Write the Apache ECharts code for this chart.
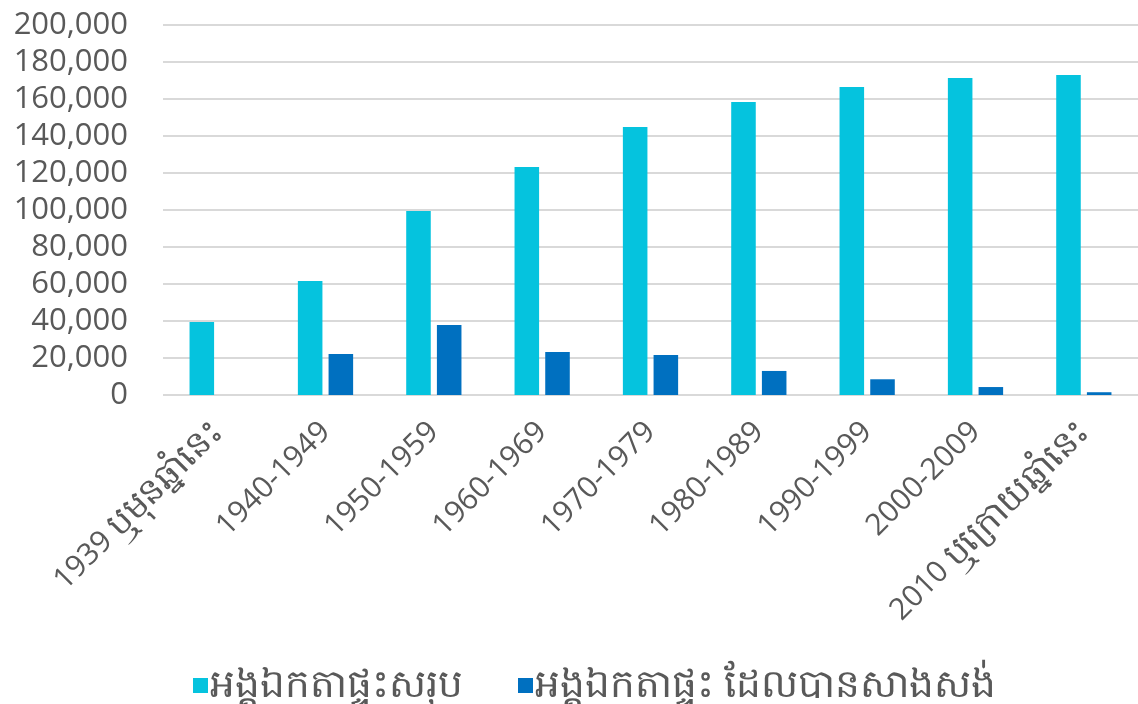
<!DOCTYPE html>
<html>
<head>
<meta charset="utf-8">
<script src="https://cdn.jsdelivr.net/npm/echarts@6/dist/echarts.min.js"></script>
<style>
  html, body { margin: 0; padding: 0; background: #fff; }
  #chart { width: 1138px; height: 704px; }
</style>
</head>
<body>
<div id="chart"></div>
<script>
const categories = [
  '1939 ឬមុនឆ្នាំនេះ', '1940-1949', '1950-1959', '1960-1969', '1970-1979',
  '1980-1989', '1990-1999', '2000-2009', '2010 ឬក្រោយឆ្នាំនេះ'
]
const seriesNames = ['អង្គឯកតាផ្ទះសរុប', 'អង្គឯកតាផ្ទះ ដែលបានសាងសង់']
const totalUnits = [39500, 61600, 99500, 123200, 144900, 158400, 166500, 171400, 173000]
const builtUnits = [0, 22200, 37800, 23200, 21600, 13000, 8500, 4300, 1500]

const fontFamily = '"Open Sans", "Noto Sans", "DejaVu Sans", sans-serif'
const textColor = '#595959'

const chart = echarts.init(document.getElementById('chart'))

// Khmer part of a label gets a bigger size (reference font is wider)
function labelFormatter(v) {
  const i = v.indexOf(' ')
  if (i < 0) return v
  return v.slice(0, i) + ' {k|' + v.slice(i + 1) + '}'
}

chart.setOption({
  animation: false,
  textStyle: { fontFamily: fontFamily },
  grid: {
    left: 163,
    right: 0,
    top: 25,
    bottom: 309,
    containLabel: false
  },
  legend: {
    top: 661,
    left: 188,
    itemWidth: 15,
    itemHeight: 15,
    itemGap: 55,
    icon: 'rect',
    textStyle: { fontSize: 39, color: textColor, fontFamily: fontFamily, padding: [0, 0, 0, -3] },
    data: seriesNames
  },
  xAxis: {
    type: 'category',
    data: categories,
    axisLine: { show: false },
    axisTick: { show: false },
    axisLabel: {
      rotate: 45,
      interval: 0,
      fontSize: 30,
      color: textColor,
      margin: 32,
      formatter: labelFormatter,
      rich: {
        k: { fontSize: 35, color: textColor, fontFamily: fontFamily }
      }
    }
  },
  yAxis: {
    type: 'value',
    min: 0,
    max: 200000,
    interval: 20000,
    axisLine: { show: false },
    axisTick: { show: false },
    splitLine: { lineStyle: { color: '#d9d9d9', width: 2 } },
    axisLabel: {
      fontSize: 31,
      color: textColor,
      margin: 35,
      formatter: v => v.toLocaleString('en-US')
    }
  },
  series: [
    {
      name: seriesNames[0],
      type: 'bar',
      data: totalUnits,
      barGap: '25%',
      barCategoryGap: '49%',
      itemStyle: { color: '#05C3DE' }
    },
    {
      name: seriesNames[1],
      type: 'bar',
      data: builtUnits,
      itemStyle: { color: '#0070C0' }
    }
  ]
})
</script>
</body>
</html>
